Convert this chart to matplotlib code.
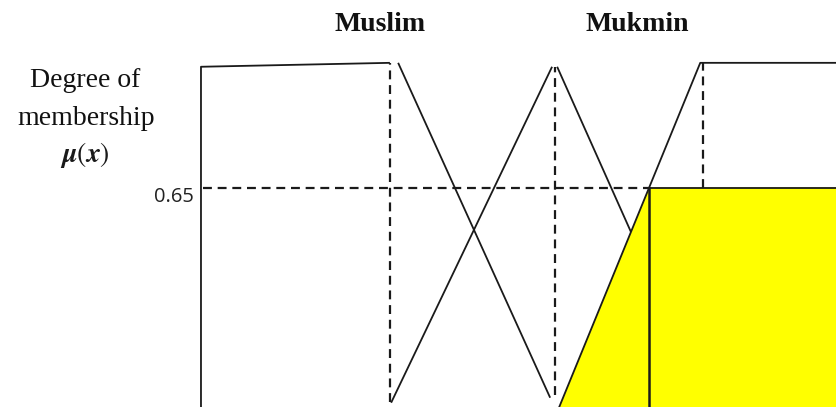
import numpy as np
import matplotlib
matplotlib.use("Agg")
import matplotlib.pyplot as plt

plt.rcParams["mathtext.fontset"] = "stix"

# membership functions (x = input scale 0..100, mu = degree of membership)
left_top_x = [0, 0, 29.7]
left_top_mu = [0.0, 0.989, 1.0]
left_fall_x = [31.0, 54.9]
left_fall_mu = [1.0, 0.062]

muslim_rise_x = [29.9, 55.2]
muslim_rise_mu = [0.048, 0.989]
muslim_fall_x = [56.0, 80.8]
muslim_fall_mu = [0.989, 0.0]

mukmin_x = [55.5, 78.5, 100]
mukmin_mu = [0.0, 1.0, 1.0]

# alpha cut and guide lines
cut_level = 0.65
guide_x = [29.7, 55.7, 78.9]
guide_top = [1.0, 0.989, 1.0]
guide_bottom = [0.05, 0.07, cut_level]

set_labels = ["Muslim", "Mukmin"]
set_label_x = [0.454, 0.761]

fig = plt.figure(figsize=(8.37, 4.07), dpi=100)
ax = fig.add_axes([0, 0, 1, 1])
ax.set_xlim(-31.6, 100)
ax.set_ylim(0.036, 1.176)
ax.axis("off")

line_kw = dict(color="#1a1a1a", lw=1.3, solid_capstyle="butt")
dash_kw = dict(color="#1a1a1a", lw=1.6, linestyle=(0, (4, 2.6)))

# clipped output (yellow area)
xs = np.linspace(mukmin_x[0], mukmin_x[-1], 400)
clipped = np.minimum(np.interp(xs, mukmin_x, mukmin_mu), cut_level)
ax.fill_between(xs, 0, clipped, color="#ffff00", zorder=2)

# muslim falling edge sits under the fill
ax.plot(muslim_fall_x, muslim_fall_mu, zorder=1, **line_kw)

ax.plot(left_top_x, left_top_mu, zorder=3, **line_kw)
ax.plot(left_fall_x, left_fall_mu, zorder=3, **line_kw)
ax.plot(muslim_rise_x, muslim_rise_mu, zorder=3, **line_kw)
ax.plot(mukmin_x, mukmin_mu, zorder=3, **line_kw)

# outline of the clipped area
corner_x = np.interp(cut_level, mukmin_mu[:2], mukmin_x[:2])
ax.plot([corner_x, 100], [cut_level, cut_level], zorder=3, **line_kw)
ax.plot([corner_x, corner_x], [0, cut_level], zorder=3, color="#1a1a1a", lw=1.8)

# dashed guides
ax.plot([0.3, corner_x], [cut_level, cut_level], zorder=3, **dash_kw)
for gx, gt, gb in zip(guide_x, guide_top, guide_bottom):
    ax.plot([gx, gx], [gb, gt], zorder=3, **dash_kw)

# texts
for lab, lx in zip(set_labels, set_label_x):
    ax.text(lx, 0.939, lab, transform=ax.transAxes, ha="center", va="center",
            family="Liberation Serif", fontweight="bold", fontsize=20, color="#111111")

ax.text(0.102, 0.786, "Degree of", transform=ax.transAxes, ha="center", va="baseline",
        family="Liberation Serif", fontsize=20, color="#111111")
ax.text(0.103, 0.693, "membership", transform=ax.transAxes, ha="center", va="baseline",
        family="Liberation Serif", fontsize=20, color="#111111")
ax.text(0.102, 0.602, r"$\boldsymbol{\mu}(\boldsymbol{x})$", transform=ax.transAxes,
        ha="center", va="baseline", fontsize=20, color="#1a1a1a")

ax.text(0.232, 0.516, "0.65", transform=ax.transAxes, ha="right", va="center",
        family="Open Sans", fontsize=14.5, color="#222222")

fig.savefig("out.png", dpi=100)
